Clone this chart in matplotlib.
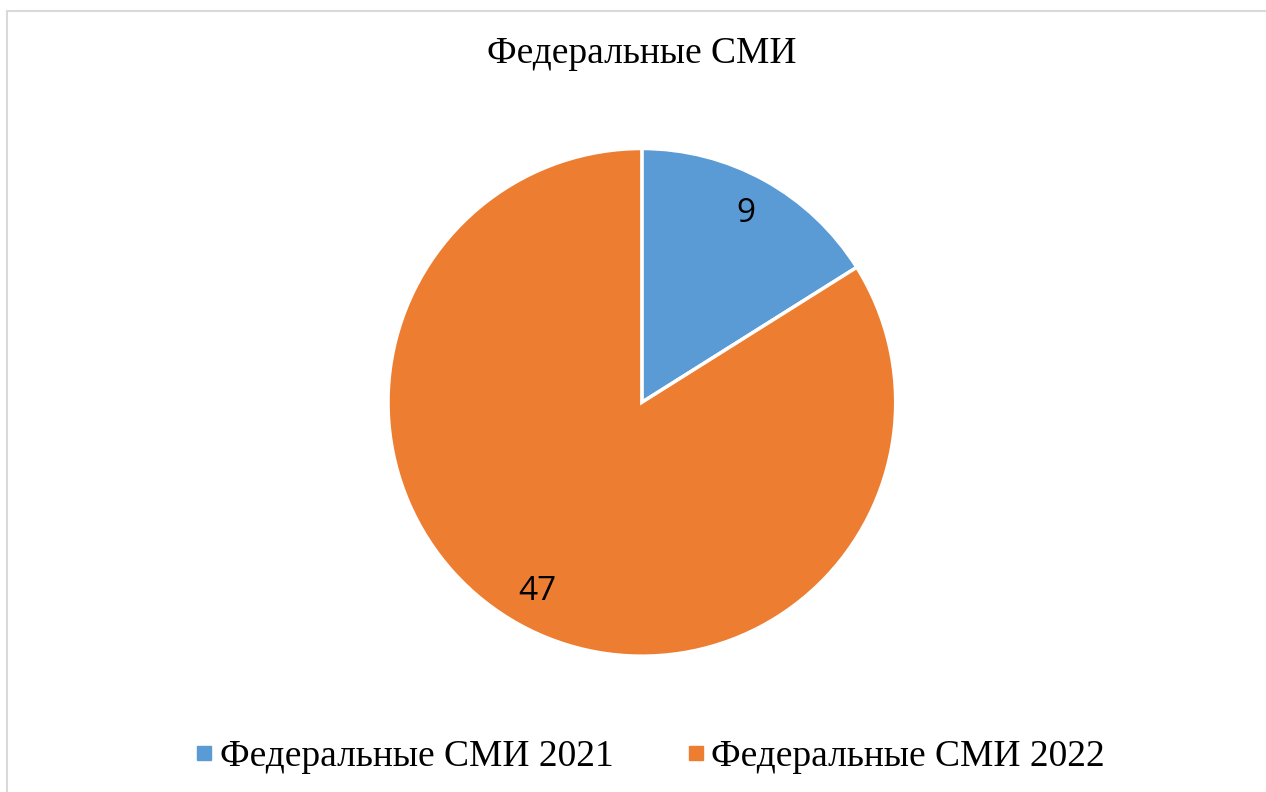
import matplotlib.pyplot as plt
from matplotlib.patches import Rectangle
from matplotlib.lines import Line2D

# data
labels = ['Федеральные СМИ 2021', 'Федеральные СМИ 2022']
values = [9, 47]
colors = ['#5B9BD5', '#ED7D31']
title = 'Федеральные СМИ'

fig = plt.figure(figsize=(12.66, 7.92), dpi=100)

# chart border (light grey, runs off right/bottom edge)
fig.patches.append(Rectangle((7 / 1266, -0.05), 1.05, 1 - 11 / 792 + 0.05,
                             transform=fig.transFigure, fill=False,
                             edgecolor='#D9D9D9', linewidth=1.5))

ax = fig.add_axes([0.3065, 0.1715, 0.401, 0.641])
wedges, texts = ax.pie(values, colors=colors, startangle=90, counterclock=False,
                       labels=[str(v) for v in values], labeldistance=0.85,
                       wedgeprops=dict(edgecolor='white', linewidth=2.5),
                       textprops=dict(fontsize=24, family='Open Sans', color='black'))
for t in texts:
    t.set_ha('center')
    t.set_va('center')
ax.set_xlim(-1, 1)
ax.set_ylim(-1, 1)
ax.set_aspect('equal')

fig.text(0.507, 1 - 54 / 792, title, ha='center', va='center',
         fontsize=27, family='Liberation Serif')

handles = [Line2D([], [], marker='s', linestyle='none', markersize=9.5,
                  markerfacecolor=c, markeredgecolor=c) for c in colors]
fig.legend(handles, labels, loc='center', bbox_to_anchor=(0.5146, 1 - 757 / 792),
           ncol=2, frameon=False, prop=dict(family='Liberation Serif', size=27),
           handlelength=0.35, handletextpad=0.25, columnspacing=2.0)

fig.savefig('out.png', dpi=100)
